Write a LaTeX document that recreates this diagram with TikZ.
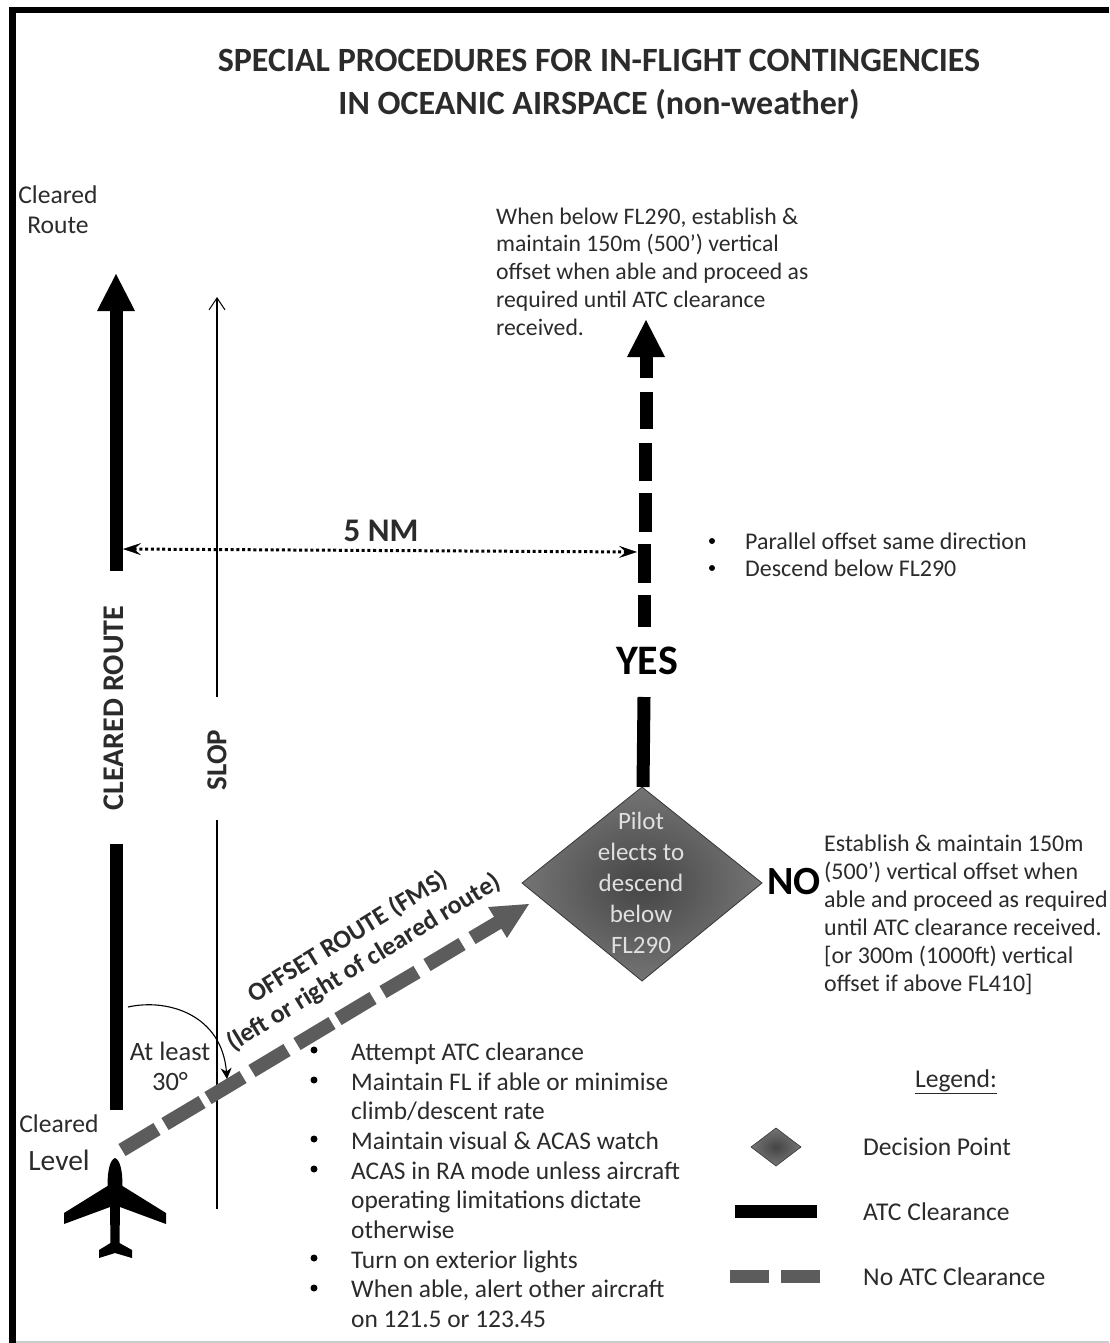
\documentclass[tikz,border=0pt]{standalone}
\usepackage{fontspec}
\setmainfont{Carlito}
\usetikzlibrary{arrows.meta}
\definecolor{dk}{gray}{0.17}
\definecolor{gr}{gray}{0.36}
\tikzset{
 txt/.style={align=left,anchor=north west,inner sep=0pt,text=dk,font=\fontsize{23.7}{27.8}\selectfont},
 txtb/.style={txt,font=\fontsize{23.95}{28}\selectfont},
 lgd/.style={align=left,anchor=west,inner sep=0pt,text=dk,font=\fontsize{25.6}{30}\selectfont},
 lbl/.style={inner sep=0pt,text=dk,font=\fontsize{25.6}{30}\selectfont,align=center},
 blk/.style={line width=13pt,black},
 grd/.style={line width=14pt,gr},
 bul/.style={circle,fill=black,inner sep=0pt,minimum size=7pt},
}
\begin{document}
\begin{tikzpicture}[x=1pt,y=-1pt]
\useasboundingbox (0,0) rectangle (1109,1343);
\fill[white] (0,0) rectangle (1109,1343);
\draw[line width=1.5pt,gray!40] (16,1342) -- (1109,1342);
\draw[line width=6.3pt,black] (12.5,1343) -- (12.5,10.3) -- (1109,10.3);
\node[inner sep=0pt,align=center,font=\fontsize{34}{43}\selectfont\bfseries,text=dk] (title) at (599,84) {SPECIAL PROCEDURES  FOR IN-FLIGHT CONTINGENCIES\\IN OCEANIC AIRSPACE (non-weather)};
\node[lbl] (route) at (58,210) {Cleared\\Route};
% cleared route
\coordinate (r1) at (116,1110); \coordinate (r2) at (116,844);
\coordinate (r3) at (116,571); \coordinate (r4) at (116,310); \coordinate (r5) at (116,274);
\draw[blk] (r1) -- (r2);
\draw[blk] (r3) -- (r4);
\fill[black] (r5) -- (135,311) -- (97,311) -- cycle;
\node[rotate=90,inner sep=0pt,font=\fontsize{30}{30}\selectfont\bfseries,text=dk] (crlabel) at (114,708) {CLEARED ROUTE};
% slop
\coordinate (s1) at (217,1209); \coordinate (s2) at (217,820); \coordinate (s3) at (217,697); \coordinate (s4) at (217,297);
\draw[line width=1.2pt] (s1) -- (s2);
\draw[line width=1.2pt,-{Straight Barb[length=12pt,width=16pt,line width=1pt]}] (s3) -- (s4);
\node[rotate=90,inner sep=0pt,font=\fontsize{29}{30}\selectfont\bfseries,text=dk] (slop) at (217,760) {SLOP};
% 5 NM
\coordinate (a) at (123,549); \coordinate (b) at (637,552);
\draw[line width=3pt,dash pattern=on 3pt off 2.7pt,{Stealth[length=18pt,width=12pt,inset=7pt,line width=0.5pt,sep=0pt]}-{Stealth[length=18pt,width=12pt,inset=7pt,line width=0.5pt]}] (a) -- (b);
\node[inner sep=0pt,font=\fontsize{33}{36}\selectfont\bfseries,text=dk] (nm) at (381,531) {5 NM};
% top text
\node[txt] (top) at (496,207.5) {When below FL290, establish \&\\maintain 150m (500’) vertical\\offset when able and proceed as\\required until ATC clearance\\received.};
% decision
\shade[inner color=gr!75!black,outer color=gr!85!white,draw=gr!60!black,line width=0.8pt] (642,787) -- (762,883) -- (642,981) -- (522,883) -- cycle;
\node[inner sep=0pt,align=center,text=white!88!black,font=\fontsize{25}{31}\selectfont] (dtext) at (641,883) {Pilot\\elects to\\descend\\below\\FL290};
% yes
\coordinate (y0) at (643,787); \coordinate (y1) at (644,697); \coordinate (y2) at (644,627); \coordinate (y3) at (646,352); \coordinate (y4) at (646,320);
\draw[blk] (y0) -- (y1);
\node[inner sep=0pt,font=\fontsize{42}{42}\selectfont\bfseries,text=black] (yes) at (647,661) {YES};
\draw[blk] (y2) -- (644,595);
\draw[blk] (644.5,583) -- (644.5,544);
\draw[blk] (645,532) -- (645,493);
\draw[blk] (645.5,481) -- (645.5,443);
\draw[blk] (646,429) -- (646,392);
\draw[blk] (646,378) -- (y3);
\fill[black] (y4) -- (665,357) -- (627,357) -- cycle;
% bullets mid
\node[bul,minimum size=6pt] (bm1) at (712,541) {};
\node[bul,minimum size=6pt] (bm2) at (712,568) {};
\node[txtb,anchor=west] (pm1) at (745,541) {Parallel offset same direction};
\node[txtb,anchor=west] (pm2) at (745,568) {Descend below FL290};
% NO
\node[inner sep=0pt,font=\fontsize{40}{40}\selectfont\bfseries,text=black] (no) at (794,882) {NO};
\node[txtb] (notext) at (824,835) {Establish \& maintain 150m\\(500’) vertical offset when\\able and proceed as required\\until ATC clearance received.\\{}[or 300m (1000ft) vertical\\offset if above FL410]};
% offset
\foreach \xa/\ya/\xb/\yb in {122/1150/157/1129,165/1124/202/1102,208/1098/243/1077,252/1071/287/1050,297/1044/332/1023,338/1019/373/998,383/992/417/972,427/965/462/944,472/938/499/922}
  {\draw[grd] (\xa,\ya) -- (\xb,\yb);}
\fill[gr] (529,904) -- (488,907) -- (507,938) -- cycle;
\node[rotate=31.5,inner sep=0pt,align=center,text=dk,font=\fontsize{26}{30}\selectfont\bfseries] (off) at (356,950) {OFFSET ROUTE  (FMS)\\(left or right of cleared route)};
% angle
\coordinate (c1) at (128,1007); \coordinate (c2) at (227,1079);
\draw[line width=1.1pt,-{Stealth[length=11pt,width=11pt]}] (c1) .. controls (168,998) and (222,1015) .. (c2);
\node[lbl,font=\fontsize{26.5}{30}\selectfont] (least) at (170,1066) {At least\\30°};
\node[lbl] (cl) at (59,1124) {Cleared};
\node[lbl,font=\fontsize{29.5}{30}\selectfont] (lv) at (59,1160) {Level};
% plane
\fill[black] (115,1158) .. controls (120,1160) and (122.5,1170) .. (122.5,1186) -- (166,1213) -- (166,1224) -- (120,1207) -- (119.5,1243) -- (132,1250) -- (132,1258) -- (115,1253) -- (99,1258) -- (99,1250) -- (110.5,1243) -- (110,1207) -- (64,1224) -- (64,1213) -- (107.5,1186) .. controls (107.5,1170) and (110,1160) .. (115,1158) -- cycle;
% list
\foreach \n/\yy in {b1/1050,b2/1080,b3/1139,b4/1169,b5/1258,b6/1288}{\node[bul] (\n) at (314,\yy) {};}
\node[txt,font=\fontsize{25.4}{29.7}\selectfont] (list) at (351,1042.5) {Attempt ATC clearance\\Maintain FL if able or minimise\\climb/descent rate\\Maintain visual \& ACAS watch\\ACAS in RA mode  unless aircraft\\operating limitations dictate\\otherwise\\Turn on exterior lights\\When able, alert other aircraft\\on 121.5 or 123.45};
% legend
\node[lbl] (leg) at (956,1082) {\underline{Legend:}};
\shade[inner color=gr!75!black,outer color=gr!85!white,draw=gr!60!black,line width=0.6pt] (776,1128) -- (801,1147) -- (776,1166) -- (751,1147) -- cycle;
\node[lgd] (l1) at (863,1147) {Decision Point};
\node[lgd] (l2) at (863,1212) {ATC Clearance};
\node[lgd] (l3) at (863,1277) {No ATC Clearance};
\fill[black] (735,1205) rectangle (817,1218);
\fill[gr] (730,1270) rectangle (769,1283);
\fill[gr] (781,1270) rectangle (820,1283);
\end{tikzpicture}
\end{document}
